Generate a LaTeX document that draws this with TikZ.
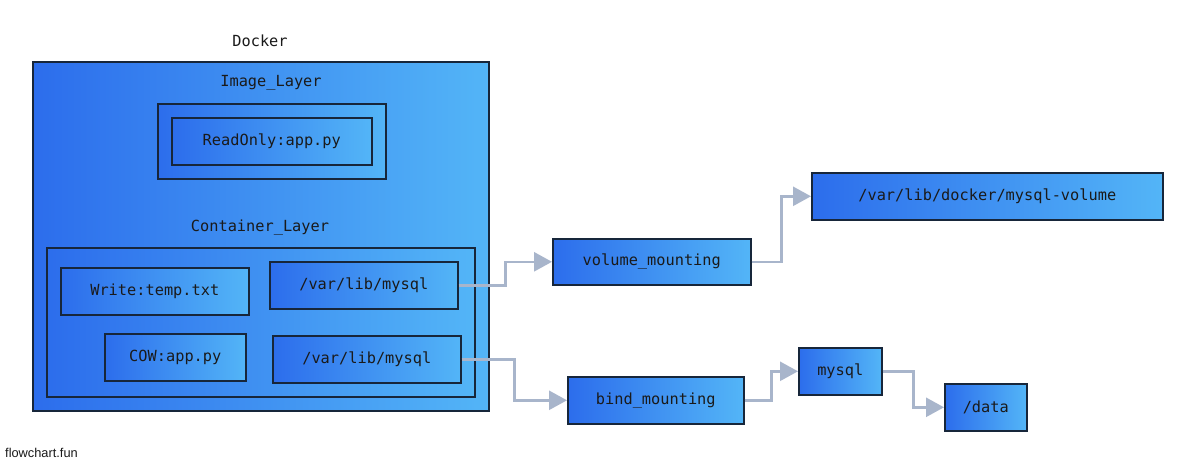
\documentclass[tikz,border=0pt]{standalone}
\usepackage{fontspec}
\setmainfont{Liberation Sans}
\setmonofont{DejaVu Sans Mono}
\usetikzlibrary{calc,arrows.meta}
\definecolor{gl}{HTML}{2C6DEC}
\definecolor{gr}{HTML}{53B5F7}
\definecolor{bd}{HTML}{17263A}
\definecolor{edge}{HTML}{A8B5CB}
\definecolor{txt}{HTML}{1A1A1A}
\tikzset{
  box/.style={draw=bd, line width=1.6pt, left color=gl, right color=gr, inner sep=0pt,
    anchor=north west, font=\ttfamily\fontsize{15.3}{18}\selectfont, text=txt},
  lbl/.style={font=\ttfamily\fontsize{15.3}{18}\selectfont, text=txt, inner sep=0pt},
  conn/.style={draw=edge, line width=2.6pt, -{Triangle[length=18pt,width=19pt]}},
}
\newcommand{\bx}[6]{\node[box, minimum width=#4-#2, minimum height=#5-#3] (#1) at (#2,#3) {#6};}
\begin{document}
\begin{tikzpicture}[x=1pt,y=-1pt]
\useasboundingbox[fill=white] (0,0) rectangle (1194,463);
% Docker
\node[lbl] (tdocker) at (260,41) {Docker};
\bx{docker}{32}{61}{488}{410}{}
\node[lbl] (timage) at (271,83) {Image\_Layer};
\bx{image}{157}{103}{385}{178}{}
\bx{ro}{171}{117}{371}{164}{ReadOnly:app.py}
\node[lbl] (tcont) at (260,227) {Container\_Layer};
\bx{cont}{46}{247}{474}{396}{}
\bx{write}{60}{267}{248}{314}{Write:temp.txt}
\bx{vlm1}{269}{261}{457}{308}{/var/lib/mysql}
\bx{cow}{104}{333}{245}{380}{COW:app.py}
\bx{vlm2}{272}{335}{460}{382}{/var/lib/mysql}
% right side
\bx{vol}{552}{238}{750}{284}{volume\_mounting}
\bx{dock}{811}{172}{1162}{219}{/var/lib/docker/mysql-volume}
\bx{bind}{567}{376}{743}{423}{bind\_mounting}
\bx{mysql}{798}{347}{881}{394}{mysql}
\bx{data}{944}{383}{1026}{430}{/data}
% edges
\draw[conn] (vlm1.east) -| ($(vlm1.east)!.5!(vol.west)$) |- (vol.west);
\draw[conn] (vol.east) -| ($(vol.east)!.5!(dock.west)$) |- (dock.west);
\draw[conn] (vlm2.east) -| ($(vlm2.east)!.5!(bind.west)$) |- (bind.west);
\draw[conn] (bind.east) -| ($(bind.east)!.5!(mysql.west)$) |- (mysql.west);
\draw[conn] (mysql.east) -| ($(mysql.east)!.5!(data.west)$) |- (data.west);
\node[anchor=base west, inner sep=0pt, font=\fontsize{12.8}{15}\selectfont, text=txt] (brand) at (5,457) {flowchart.fun};
\end{tikzpicture}
\end{document}
